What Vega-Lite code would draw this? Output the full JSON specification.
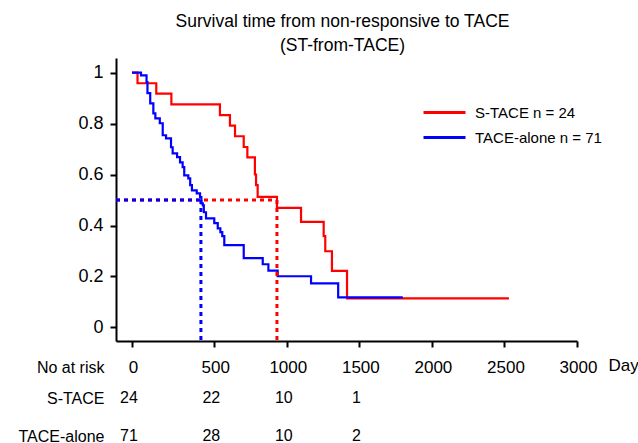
{
  "$schema": "https://vega.github.io/schema/vega-lite/v6.json",
  "padding": {"left": 18, "top": 12, "right": 0, "bottom": 0},
  "bounds": "flush",
  "spacing": 57,
  "config": {
    "font": "Liberation Sans",
    "view": {"stroke": null},
    "axis": {"grid": false, "domainColor": "black", "tickColor": "black", "labelColor": "black", "titleColor": "black"}
  },
  "vconcat": [
    {
      "width": 461,
      "height": 283,
      "title": {
        "text": ["Survival time from non-responsive to TACE", "(ST-from-TACE)"],
        "fontSize": 17.5,
        "fontWeight": "normal",
        "lineHeight": 24,
        "anchor": "middle",
        "offset": 4,
        "dx": -4,
        "color": "black"
      },
      "layer": [
        {
          "data": {
            "values": [
              {"group": "S-TACE", "day": 0, "surv": 1.0},
              {"group": "S-TACE", "day": 30, "surv": 0.958},
              {"group": "S-TACE", "day": 132, "surv": 0.917},
              {"group": "S-TACE", "day": 214, "surv": 0.875},
              {"group": "S-TACE", "day": 539, "surv": 0.833},
              {"group": "S-TACE", "day": 608, "surv": 0.792},
              {"group": "S-TACE", "day": 643, "surv": 0.75},
              {"group": "S-TACE", "day": 703, "surv": 0.708},
              {"group": "S-TACE", "day": 728, "surv": 0.667},
              {"group": "S-TACE", "day": 780, "surv": 0.6},
              {"group": "S-TACE", "day": 788, "surv": 0.558},
              {"group": "S-TACE", "day": 799, "surv": 0.512},
              {"group": "S-TACE", "day": 932, "surv": 0.469},
              {"group": "S-TACE", "day": 1098, "surv": 0.414},
              {"group": "S-TACE", "day": 1254, "surv": 0.358},
              {"group": "S-TACE", "day": 1265, "surv": 0.299},
              {"group": "S-TACE", "day": 1311, "surv": 0.222},
              {"group": "S-TACE", "day": 1415, "surv": 0.114},
              {"group": "S-TACE", "day": 2531, "surv": 0.114},
              {"group": "TACE-alone", "day": 0, "surv": 1.0},
              {"group": "TACE-alone", "day": 49, "surv": 0.989},
              {"group": "TACE-alone", "day": 79, "surv": 0.962},
              {"group": "TACE-alone", "day": 84, "surv": 0.919},
              {"group": "TACE-alone", "day": 99, "surv": 0.879},
              {"group": "TACE-alone", "day": 116, "surv": 0.84},
              {"group": "TACE-alone", "day": 127, "surv": 0.82},
              {"group": "TACE-alone", "day": 151, "surv": 0.801},
              {"group": "TACE-alone", "day": 167, "surv": 0.754},
              {"group": "TACE-alone", "day": 185, "surv": 0.742},
              {"group": "TACE-alone", "day": 212, "surv": 0.707},
              {"group": "TACE-alone", "day": 221, "surv": 0.683},
              {"group": "TACE-alone", "day": 245, "surv": 0.668},
              {"group": "TACE-alone", "day": 264, "surv": 0.648},
              {"group": "TACE-alone", "day": 282, "surv": 0.629},
              {"group": "TACE-alone", "day": 293, "surv": 0.597},
              {"group": "TACE-alone", "day": 321, "surv": 0.585},
              {"group": "TACE-alone", "day": 334, "surv": 0.558},
              {"group": "TACE-alone", "day": 346, "surv": 0.538},
              {"group": "TACE-alone", "day": 379, "surv": 0.526},
              {"group": "TACE-alone", "day": 402, "surv": 0.511},
              {"group": "TACE-alone", "day": 411, "surv": 0.487},
              {"group": "TACE-alone", "day": 421, "surv": 0.479},
              {"group": "TACE-alone", "day": 428, "surv": 0.452},
              {"group": "TACE-alone", "day": 443, "surv": 0.428},
              {"group": "TACE-alone", "day": 500, "surv": 0.409},
              {"group": "TACE-alone", "day": 524, "surv": 0.389},
              {"group": "TACE-alone", "day": 542, "surv": 0.374},
              {"group": "TACE-alone", "day": 555, "surv": 0.358},
              {"group": "TACE-alone", "day": 569, "surv": 0.323},
              {"group": "TACE-alone", "day": 703, "surv": 0.272},
              {"group": "TACE-alone", "day": 834, "surv": 0.248},
              {"group": "TACE-alone", "day": 873, "surv": 0.223},
              {"group": "TACE-alone", "day": 937, "surv": 0.201},
              {"group": "TACE-alone", "day": 1167, "surv": 0.173},
              {"group": "TACE-alone", "day": 1354, "surv": 0.118},
              {"group": "TACE-alone", "day": 1799, "surv": 0.118}
            ]
          },
          "mark": {"type": "line", "interpolate": "step-after", "strokeWidth": 2.2},
          "encoding": {
            "x": {
              "field": "day",
              "type": "quantitative",
              "scale": {"domain": [-87, 0, 250, 3000], "range": [0, 16, 62, 461], "nice": false, "zero": false},
              "axis": {
                "values": [0, 250, 500, 750, 1000, 1250, 1500, 1750, 2000, 2250, 2500, 2750, 3000],
                "format": "d",
                "labelExpr": "datum.value % 500 == 0 ? datum.label : ''",
                "labelFlush": false,
                "labelOverlap": false,
                "labelOffset": 1,
                "tickSize": {"condition": {"test": "datum.value % 500 == 0", "value": 6}, "value": 3},
                "tickWidth": 2,
                "domainWidth": 2,
                "labelFontSize": 17,
                "labelPadding": 12,
                "title": "Day",
                "titleFontSize": 17,
                "titleFontWeight": "normal",
                "titleAlign": "left",
                "titleBaseline": "middle",
                "titleAnchor": "start",
                "titleX": 492,
                "titleY": 24
              }
            },
            "y": {
              "field": "surv",
              "type": "quantitative",
              "scale": {"domain": [-0.053, 1.057], "nice": false, "zero": false},
              "axis": {
                "values": [0, 0.1, 0.2, 0.3, 0.4, 0.5, 0.6, 0.7, 0.8, 0.9, 1],
                "labelExpr": "round(datum.value * 10) % 2 == 0 ? format(datum.value, '~g') : ''",
                "labelFlush": false,
                "labelOverlap": false,
                "tickSize": {"condition": {"test": "round(datum.value * 10) % 2 == 0", "value": 6}, "value": 3},
                "tickWidth": 2,
                "domainWidth": 2,
                "labelFontSize": 18,
                "labelPadding": 7,
                "title": null
              }
            },
            "color": {
              "field": "group",
              "type": "nominal",
              "scale": {"domain": ["S-TACE", "TACE-alone"], "range": ["#ff0000", "#0000ff"]},
              "legend": {
                "orient": "none",
                "legendX": 306,
                "legendY": 42,
                "title": null,
                "symbolType": "stroke",
                "symbolSize": 1764,
                "symbolStrokeWidth": 3,
                "labelFontSize": 15,
                "labelColor": "black",
                "labelOffset": 8,
                "clipHeight": 25,
                "rowPadding": 0,
                "labelExpr": "datum.label == 'S-TACE' ? 'S-TACE n = 24' : 'TACE-alone n = 71'"
              }
            }
          }
        },
        {
          "data": {
            "values": [
              {"group": "S-TACE", "start": -87, "median": 932, "half": 0.5, "bottom": -0.053},
              {"group": "TACE-alone", "start": -87, "median": 408, "half": 0.5, "bottom": -0.053}
            ]
          },
          "layer": [
            {
              "mark": {"type": "rule", "strokeWidth": 3, "strokeDash": [4, 4]},
              "encoding": {
                "x": {"field": "start", "type": "quantitative"},
                "x2": {"field": "median"},
                "y": {"field": "half", "type": "quantitative"},
                "color": {"field": "group", "type": "nominal", "legend": null},
                "strokeDashOffset": {"field": "group", "type": "nominal", "scale": {"domain": ["S-TACE", "TACE-alone"], "range": [0, 4]}, "legend": null}
              }
            },
            {
              "mark": {"type": "rule", "strokeWidth": 3, "strokeDash": [4, 4]},
              "encoding": {
                "x": {"field": "median", "type": "quantitative"},
                "y": {"field": "half", "type": "quantitative"},
                "y2": {"field": "bottom"},
                "color": {"field": "group", "type": "nominal", "legend": null}
              }
            }
          ]
        }
      ]
    },
    {
      "width": 461,
      "height": 38,
      "data": {
        "values": [
          {"group": "S-TACE", "day": 0, "n": 24},
          {"group": "S-TACE", "day": 500, "n": 22},
          {"group": "S-TACE", "day": 1000, "n": 10},
          {"group": "S-TACE", "day": 1500, "n": 1},
          {"group": "TACE-alone", "day": 0, "n": 71},
          {"group": "TACE-alone", "day": 500, "n": 28},
          {"group": "TACE-alone", "day": 1000, "n": 10},
          {"group": "TACE-alone", "day": 1500, "n": 2}
        ]
      },
      "mark": {"type": "text", "fontSize": 16, "dx": -3, "color": "black"},
      "encoding": {
        "x": {
          "field": "day",
          "type": "quantitative",
          "scale": {"domain": [-87, 0, 250, 3000], "range": [0, 16, 62, 461], "nice": false, "zero": false},
          "axis": null
        },
        "y": {
          "field": "group",
          "type": "nominal",
          "scale": {"type": "point", "domain": ["S-TACE", "TACE-alone"], "padding": 0},
          "axis": {
            "title": "No at risk",
            "titleAngle": 0,
            "titleAlign": "right",
            "titleBaseline": "middle",
            "titleX": -12,
            "titleY": -31,
            "titleFontSize": 16,
            "titleFontWeight": "normal",
            "domain": false,
            "ticks": false,
            "labelFontSize": 16,
            "labelPadding": 12
          }
        },
        "text": {"field": "n", "type": "nominal"}
      }
    }
  ]
}
